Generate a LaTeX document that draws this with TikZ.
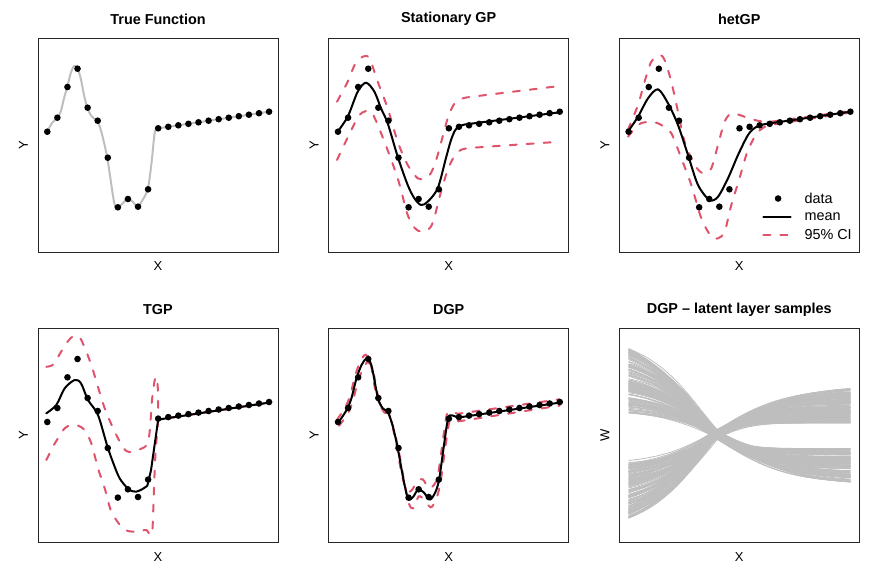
\documentclass[tikz,border=0pt]{standalone}
\usepackage{fontspec}
\setmainfont{Liberation Sans}
\usepackage{tikz}
\usetikzlibrary{calc,positioning}

\definecolor{cired}{HTML}{DF536B}
\definecolor{truegrey}{HTML}{BEBEBE}

% frame, title and axis labels of one panel
\newcommand{\panelframe}[3]{%
  \draw[frame] (0,0) rectangle (240,214);
  \node[ptitle] (#1-title) at (120,-19) {#2};
  \node[axlab] (#1-xlab) at (120,228.5) {X};
  \node[axlab, rotate=90] (#1-ylab) at (-14.5,107) {#3};
}
% observed data
\newcommand{\datapts}{%
  \foreach \yv [count=\i from 0] in {93.7,79.7,49,30.7,69.7,82.7,119.7,169.3,161,168.7,151.3,90.3,88.8,87.3,85.8,84.3,82.7,81.2,79.7,78.2,76.7,75.2,73.7}
    \fill (9.3+10.08*\i,\yv) circle (3.3pt);
}
% one latent sample: start, end
\newcommand{\latentcurve}[2]{%
  \pgfmathsetmacro{\yc}{102.5+7*rnd}
  \pgfmathsetmacro{\xc}{94.5+5*rnd}
  \pgfmathsetmacro{\wl}{44+0.3*abs(#1-\yc)+12*rnd}
  \pgfmathsetmacro{\wr}{8+1.3*abs(#2-\yc)+10*rnd}
  \pgfmathsetmacro{\nl}{tanh((\xc-9.3)/\wl)}
  \pgfmathsetmacro{\nr}{tanh((231-\xc)/\wr)}
  \draw[latentline] plot[domain=9.3:\xc, samples=18, smooth] (\x,{\yc+(#1-\yc)*tanh((\xc-\x)/\wl)/\nl}) -- plot[domain=\xc:231, samples=18, smooth] (\x,{\yc+(#2-\yc)*tanh((\x-\xc)/\wr)/\nr});
}

\begin{document}
\begin{tikzpicture}[x=1pt, y=-1pt,
  frame/.style={draw=black!85, line width=1pt},
  ptitle/.style={font=\bfseries\fontsize{14.4}{17}\selectfont},
  axlab/.style={font=\fontsize{13}{15}\selectfont},
  legtext/.style={font=\fontsize{14.4}{17}\selectfont, anchor=west, inner sep=0},
  meanline/.style={line width=2pt, line cap=round, line join=round},
  ciline/.style={cired, line width=2pt, line cap=round, dash pattern=on 7pt off 10pt},
  truthline/.style={truegrey, line width=2pt},
  latentline/.style={truegrey, line width=0.8pt}]
  \useasboundingbox (0,0) rectangle (872,581);

  % True Function
  \begin{scope}[shift={(38,38)}]
    \panelframe{tf}{True Function}{Y}
    \draw[truthline] plot[smooth, tension=0.5] coordinates {(9.3,93.7) (14,85) (19.3,79.7) (22.7,73.7) (26,60.3) (29.3,48.7) (32.7,35.3) (36,28) (39.3,29.7) (42.7,40.3) (46,57) (49.3,69.7) (52.7,77) (56,80.5) (59.3,82.7) (63.3,93.7) (69.3,120) (76,163.7) (79.3,169.7) (84,166) (89.3,161) (94.5,163.5) (99.7,168.7) (104,163) (109.7,151.3) (113.5,125) (116.5,96) (118.5,91) (120.2,90.3)} -- (231.1,73.7);
    \datapts
  \end{scope}

  % Stationary GP
  \begin{scope}[shift={(328.7,38)}]
    \panelframe{gp}{Stationary GP}{Y}
    \draw[ciline] plot[smooth, tension=0.5] coordinates {(8.3,63.7) (19,43.7) (26,27) (34,18.7) (40.7,20.3) (49,43.7) (59,70.3) (69,103.7) (79,127) (89,140.3) (95.7,140.3) (102.3,135) (109,117) (119,80.3) (126,65.3) (134.3,60.3) (145,58.5)} -- (231,48);
    \draw[ciline] plot[smooth, tension=0.5] coordinates {(8.3,122) (21,95.3) (30,78) (37.3,73) (44,76) (55.7,103.7) (69,140.3) (79,177) (86,190) (92.3,193.7) (99,192) (104.3,184) (112.3,153.7) (119,132) (125.7,118) (132,112) (140,110)} -- (231,103.7);
    \draw[meanline] plot[smooth, tension=0.5] coordinates {(9,93.5) (19,78.7) (29,53.7) (37.3,44.7) (45.7,53.7) (52.3,70.3) (59,85.3) (69,118.7) (79,147) (85.7,160.3) (92.3,167) (99,163.7) (109,150.3) (117,121) (122,103) (126,93) (130,88.5) (136,86.5)} -- (231,74.3);
    \datapts
  \end{scope}

  % hetGP
  \begin{scope}[shift={(619.3,38)}]
    \panelframe{het}{hetGP}{Y}
    \draw[ciline] plot[smooth, tension=0.5] coordinates {(8.5,92) (18.7,67) (25.3,43.7) (32,23.7) (40.3,17) (45.3,22) (52,43.7) (58.7,73.7) (65.3,103.7) (73.7,123.7) (80,133) (85.3,135.3) (92,130.3) (98.7,107) (105.3,83.7) (112,75.3) (120.3,77) (130,80.5) (140,83) (150,84)} -- (231,73);
    \draw[ciline] plot[smooth, tension=0.5] coordinates {(8.7,98.7) (18.7,87) (25.3,84.3) (35.3,84.3) (42,87) (52,95.3) (62,120.3) (72,147) (82,180.3) (92,198.7) (98.7,200.3) (105.3,193.7) (112,167) (120.3,140) (128,114) (137.7,95) (147.7,87.5)} -- (231,74.5);
    \draw[meanline] plot[smooth, tension=0.5] coordinates {(8.7,93.5) (18.7,78.7) (28.7,60.3) (38.7,51.3) (48.7,65.3) (58.7,87) (68.7,117) (78.7,147) (90.3,162) (98.7,158.7) (108.7,140.3) (118.7,117) (128.7,97) (136,89.5) (144,86.5) (151,85.3)} -- (231,73.7);
    \datapts
    % legend
    \fill (158.8,160.5) circle (3.3pt);
    \node[legtext] (leg-data) at (185,160.5) {data};
    \draw[meanline] (144,178.7) -- (171.4,178.7);
    \node[legtext] (leg-mean) at (185,178.7) {mean};
    \draw[ciline] (144,197) -- (171.4,197);
    \node[legtext] (leg-ci) at (185,197) {95\% CI};
  \end{scope}

  % TGP
  \begin{scope}[shift={(38,328.3)}]
    \panelframe{tgp}{TGP}{Y}
    \draw[ciline] plot[smooth, tension=0.5] coordinates {(8.3,38.5) (15,36.5) (21,27) (27,17) (33,9.5) (38.3,7.3) (43.3,11.7) (53.3,36.7) (66.7,80) (80,110) (88,122.5) (95,123.5) (103,120.5) (109.5,116) (112,100) (114,72) (116.5,53) (118.5,48.5) (119.8,60) (120.3,91.3)} -- (231,74.3);
    \draw[ciline] plot[smooth, tension=0.5] coordinates {(8.3,131.7) (15,118.3) (20,110) (26.7,100) (33.3,96.7) (40,97.3) (46.7,101.7) (53.3,115) (60,140) (66.7,160) (73.3,183.3) (83.3,198.3) (90,202.7) (100,203.3) (108.3,201.7) (112.5,207) (114.5,200) (116,160) (117.5,125) (120.2,91.3)} -- (231,74.3);
    \draw[meanline] plot[smooth, tension=0.5] coordinates {(8.3,85) (18.3,76.7) (26.7,60) (36.7,51.7) (43,55) (50,71.7) (60,86.7) (70,120) (80,146.7) (86,156) (92,162) (98.3,163.3) (104,161) (109.3,157.5)} -- (113,142) -- (120.2,91.3) -- (231,74.3);
    \datapts
  \end{scope}

  % DGP
  \begin{scope}[shift={(328.7,328.3)}]
    \panelframe{dgp}{DGP}{Y}
    \draw[ciline] plot[smooth, tension=0.5] coordinates {(8.3,91.5) (16.5,79) (21.5,67) (26.5,47) (31.5,33.5) (36.5,26.5) (41.5,33) (47.5,66.5) (52.5,77) (58,80.5) (63,95) (68,118) (73,146) (78,163) (83,162) (88,154) (94,151) (100,160) (105,157) (109,148) (113.8,115) (118,86.5) (122,83.5) (129,85.5)} -- (231,71);
    \draw[ciline] plot[smooth, tension=0.5] coordinates {(10.3,97.5) (19,85.5) (24,73) (29,54) (34,41) (39,34) (44,41) (50.5,73.5) (55.5,84) (60.5,87.5) (65.5,102.5) (70.5,125) (75.5,153) (80.5,176) (85,180) (90,168) (96,172) (102,179) (107,172) (111.5,156) (116.2,122) (120.5,94) (123.5,91) (130,93)} -- (231,77.3);
    \draw[meanline] plot[smooth, tension=0.5] coordinates {(9.3,94.7) (17.7,82) (22.7,70) (27.7,50.3) (32.7,37) (37.7,30.5) (42.7,37) (49.3,70) (54.3,80.3) (59.3,84) (64.3,98.7) (69.3,121.3) (74.3,148.7) (79.3,170.3) (84.3,168.7) (89.3,161.3) (95,164) (101,171.3) (106,165.3) (110.3,152) (115,118.7) (119.3,90.3) (122.7,87) (129.3,89.3)} -- (231,74.3);
    \datapts
  \end{scope}

  % DGP - latent layer samples
  \begin{scope}[shift={(619.3,328.3)}]
    \panelframe{lat}{DGP \textendash\ latent layer samples}{W}
    \pgfmathsetseed{42}
    \foreach \k in {1,...,150} {
      \pgfmathsetmacro{\ya}{20+65*rnd}
      \pgfmathsetmacro{\yb}{120+34*rnd}
      \latentcurve{\ya}{\yb}
      \pgfmathsetmacro{\ya}{132+58*rnd}
      \pgfmathsetmacro{\yb}{60+35*rnd}
      \latentcurve{\ya}{\yb}
    }
  \end{scope}
\end{tikzpicture}
\end{document}
